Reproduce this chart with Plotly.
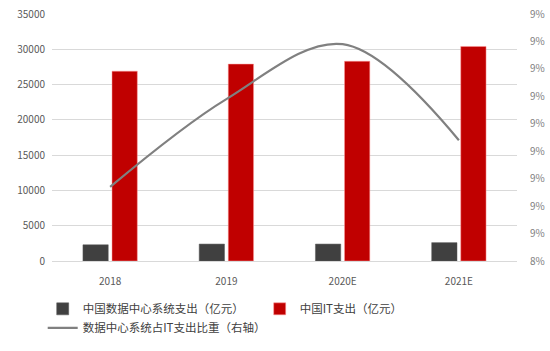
import plotly.graph_objects as go

categories = ["2018", "2019", "2020E", "2021E"]
dc_spend = [2300, 2400, 2400, 2600]
it_spend = [26900, 27900, 28300, 30400]
ratio = [0.0867, 0.0899, 0.0919, 0.0884]
right_tickvals = [0.084, 0.085, 0.086, 0.087, 0.088, 0.089, 0.090, 0.091, 0.092, 0.093]
right_ticktext = ["8%", "9%", "9%", "9%", "9%", "9%", "9%", "9%", "9%", "9%"]
left_tickvals = [0, 5000, 10000, 15000, 20000, 25000, 30000, 35000]
left_ticktext = ["0", "5000", "10000", "15000", "20000", "25000", "30000", "35000"]

FONT = "Noto Sans CJK SC"

fig = go.Figure()
fig.add_trace(go.Bar(x=categories, y=dc_spend, name="中国数据中心系统支出（亿元）",
                     marker=dict(color="#404040", line=dict(color="#595959", width=0.5))))
fig.add_trace(go.Bar(x=categories, y=it_spend, name="中国IT支出（亿元）",
                     marker=dict(color="#C00000", line=dict(color="#FF9999", width=0.5))))
fig.add_trace(go.Scatter(x=categories, y=ratio, name="数据中心系统占IT支出比重（右轴）",
                         mode="lines", yaxis="y2",
                         line=dict(color="#808080", width=2.2, shape="spline", smoothing=1.0)))

fig.update_layout(
    width=550, height=351,
    margin=dict(l=52, r=33, t=14, b=90, autoexpand=False),
    paper_bgcolor="white", plot_bgcolor="white",
    font=dict(family=FONT, color="#595959", size=10),
    barmode="group", bargap=0.5, bargroupgap=0.13,
    xaxis=dict(showgrid=False, showline=True, linecolor="#D9D9D9", linewidth=1,
               ticks="", tickfont=dict(size=10, color="#595959"), ticklabelstandoff=11),
    yaxis=dict(range=[0, 35000], tickvals=left_tickvals, ticktext=left_ticktext, showgrid=True,
               gridcolor="#D9D9D9", gridwidth=1, zeroline=False,
               ticks="", tickfont=dict(size=10, color="#595959"), ticklabelstandoff=6),
    yaxis2=dict(overlaying="y", side="right", range=[0.084, 0.093],
                tickvals=right_tickvals, ticktext=right_ticktext,
                showgrid=False, zeroline=False, ticks="",
                tickfont=dict(size=10, color="#808080"), ticklabelstandoff=12),
    legend=dict(orientation="h", x=-0.02, xanchor="left", y=-0.135, yanchor="top",
                entrywidth=172, entrywidthmode="pixels",
                font=dict(size=11.5, color="#404040", family=FONT),
                tracegroupgap=0, itemwidth=30),
    showlegend=True,
)

fig.write_html("out.html")
